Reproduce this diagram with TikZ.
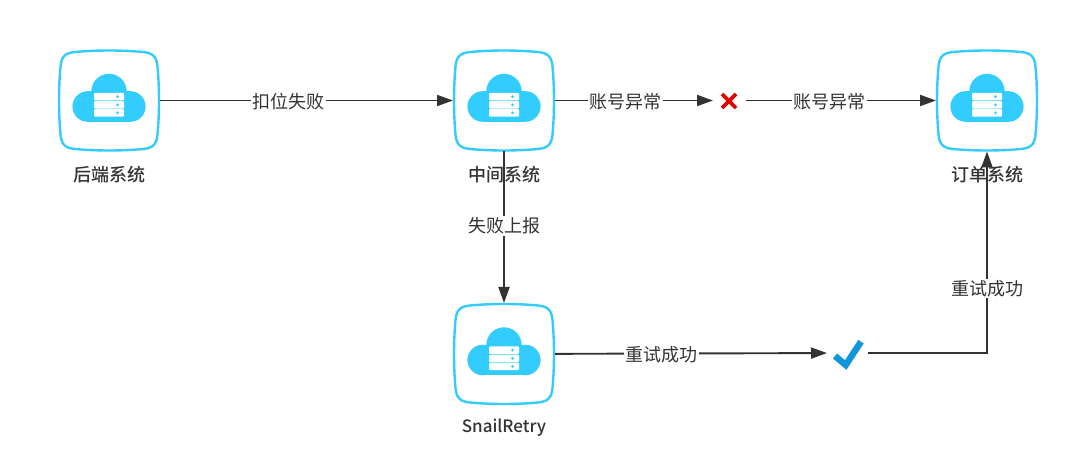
\documentclass[tikz,border=0pt]{standalone}
\usepackage{fontspec}
\setmainfont[BoldFont={Noto Sans CJK SC Medium}]{Noto Sans CJK SC}
\definecolor{iconblue}{HTML}{33CCFF}
\definecolor{linegray}{HTML}{333333}
\definecolor{okblue}{HTML}{1296DB}
\usetikzlibrary{arrows.meta}

\tikzset{
  pics/cloudserver/.style={code={
    % rounded frame
    \draw[iconblue,line width=2.4pt] (-34,-48.5) .. controls (-12,-50.5) and (12,-50.5) .. (34,-48.5)
      .. controls (44,-47.5) and (47.5,-44) .. (48.5,-34) .. controls (50.5,-12) and (50.5,12) .. (48.5,34)
      .. controls (47.5,44) and (44,47.5) .. (34,48.5) .. controls (12,50.5) and (-12,50.5) .. (-34,48.5)
      .. controls (-44,47.5) and (-47.5,44) .. (-48.5,34) .. controls (-50.5,12) and (-50.5,-12) .. (-48.5,-34)
      .. controls (-47.5,-44) and (-44,-47.5) .. (-34,-48.5) -- cycle;
    % cloud
    \fill[iconblue] (-21.3,6) circle (15.3pt) (21.3,6) circle (15.3pt) (0,-9) circle (17.7pt);
    \fill[iconblue] (-21.3,-9.3) rectangle (21.3,21.3);
    % server bars
    \foreach \y in {-3.9,4.4,12.4} {
      \fill[white,rounded corners=1pt] (-15,\y-3.7) rectangle (15,\y+3.7);
      \fill[iconblue] (8.5,\y) circle (1.5pt);
    }
  }}
}

\begin{document}
\begin{tikzpicture}[
  x=1pt,y=-1pt,
  sysbox/.style={minimum size=102pt,inner sep=0pt,outer sep=0pt},
  markbox/.style={minimum height=32pt,inner sep=0pt,outer sep=0pt},
  arr/.style={-{Triangle[length=16pt,width=11pt]},line width=1.9pt,draw=linegray},
  flowlabel/.style={fill=white,inner sep=1.5pt,yshift=-1.5pt,text=linegray,font=\fontsize{18}{20}\selectfont},
  syslabel/.style={text=linegray,inner sep=1pt,font=\fontsize{18}{20}\selectfont\bfseries},
]
\useasboundingbox (0,0) rectangle (1080,462);

% Systems
\node[sysbox] (backend) at (109,100.5) {};
\node[sysbox] (middle) at (504,100.5) {};
\node[sysbox] (order) at (987,100.5) {};
\node[sysbox] (snail) at (504,354) {};
\pic at (backend) {cloudserver};
\pic at (middle) {cloudserver};
\pic at (order) {cloudserver};
\pic at (snail) {cloudserver};

% Marks
\node[markbox,minimum width=33pt] (failmark) at (729.5,100.5) {};
\node[markbox,minimum width=41pt] (okmark) at (847.5,353) {};
\draw[red!90!black,line width=3.6pt] ([shift={(-7.5,-6.5)}]failmark.center) -- ([shift={(6.5,7.5)}]failmark.center);
\draw[red!90!black,line width=3.6pt] ([shift={(6.5,-6.5)}]failmark.center) -- ([shift={(-7.5,7.5)}]failmark.center);
\draw[okblue,line width=6.5pt]
  ([shift={(-12.5,3)}]okmark.center) -- ([shift={(-1.8,12)}]okmark.center) -- ([shift={(13.5,-11.3)}]okmark.center);

% Arrows
\draw[arr] (backend) -- node[flowlabel,pos=.44] (lblfail) {扣位失败} (middle);
\draw[arr] (middle) -- node[flowlabel,pos=.445] (lblerra) {账号异常} (failmark);
\draw[arr] (failmark) -- node[flowlabel,pos=.44] (lblerrb) {账号异常} (order);
\draw[arr] (middle) -- node[flowlabel,pos=.49,yshift=1.5pt] (lblreport) {失败上报} (snail);
\draw[arr] (snail) -- node[flowlabel,pos=.39] (lblretry) {重试成功} (okmark);
\draw[arr] (okmark) -| node[flowlabel,pos=.66,yshift=1.5pt] (lblretryb) {重试成功} (order);

% System names
\node[syslabel] (backendname) at (109,175) {后端系统};
\node[syslabel] (middlename) at (504,175) {中间系统};
\node[syslabel] (ordername) at (987,175) {订单系统};
\node[syslabel,font=\fontsize{17}{20}\selectfont\bfseries] (snailname) at (504,428) {SnailRetry};

\end{tikzpicture}
\end{document}
